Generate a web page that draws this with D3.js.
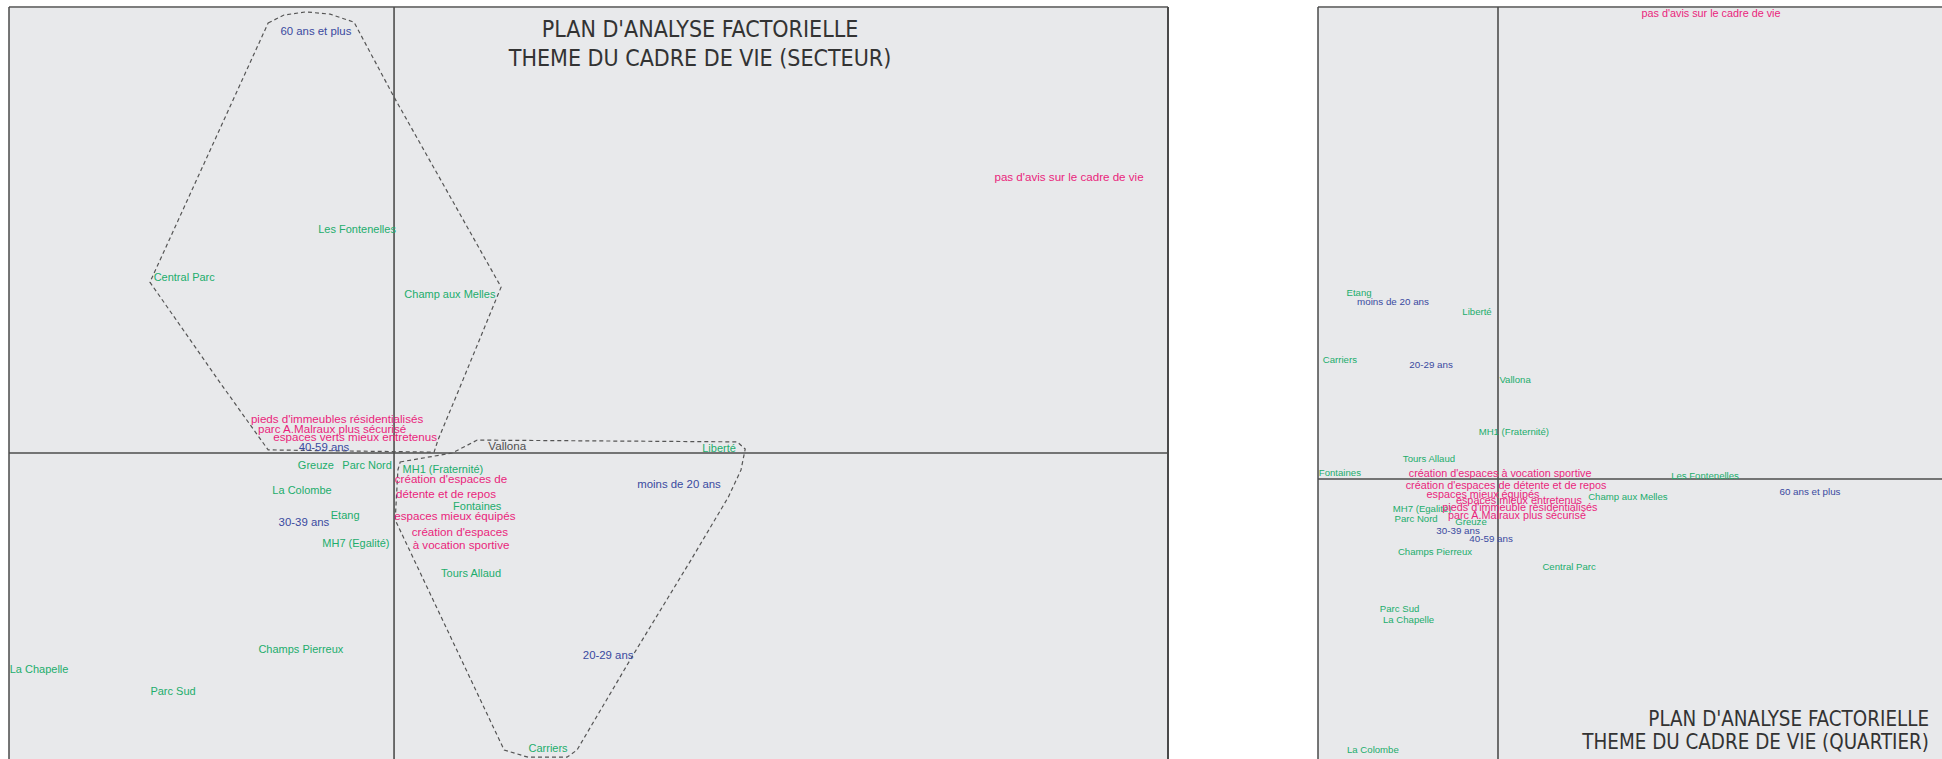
<!DOCTYPE html>
<html><head><meta charset="utf-8">
<script src="https://cdn.jsdelivr.net/npm/d3@7"></script>
<style>
html,body{margin:0;padding:0;background:#fff;}
svg{display:block;}
</style></head>
<body>
<svg id="c" width="1942" height="759"></svg>
<script>
// ---------- DATA: left panel (SECTEUR) ----------
const secteurLabels = ["60 ans et plus","Les Fontenelles","Central Parc","Champ aux Melles",
 "pieds d'immeubles résidentialisés","parc A.Malraux plus sécurisé","espaces verts mieux entretenus",
 "40-59 ans","Vallona","Liberté","Greuze","Parc Nord","MH1 (Fraternité)","création d'espaces de",
 "détente et de repos","La Colombe","Fontaines","Etang","30-39 ans","espaces mieux équipés",
 "création d'espaces","à vocation sportive","MH7 (Egalité)","Tours Allaud","moins de 20 ans",
 "Champs Pierreux","La Chapelle","Parc Sud","20-29 ans","Carriers","pas d'avis sur le cadre de vie"];
const secteurX = [-0.203,-0.096,-0.545,0.145,-0.148,-0.161,-0.101,-0.182,0.294,0.844,-0.203,-0.070,0.127,0.148,
 0.135,-0.239,0.216,-0.127,-0.234,0.158,0.171,0.174,-0.099,0.200,0.740,-0.242,-0.922,-0.574,0.556,0.400,1.753];
const secteurY = [0.946,0.502,0.395,0.357,0.078,0.056,0.036,0.013,0.016,0.011,-0.027,-0.027,-0.036,-0.058,
 -0.090,-0.083,-0.119,-0.139,-0.155,-0.141,-0.175,-0.204,-0.202,-0.269,-0.070,-0.439,-0.484,-0.534,-0.453,-0.661,0.619];
const secteurType = ["age","site","site","site","avis","avis","avis","age","center","site","site","site","site","avis",
 "avis","site","site","site","age","avis","avis","avis","site","site","age","site","site","site","age","site","avis"];

// convex envelopes (dashed) in factor units
const hullUpperX = [-0.327,-0.286,-0.229,-0.166,-0.104,0,0.278,0.179,0.114,0.104,-0.327,-0.457,-0.634];
const hullUpperY = [0.964,0.982,0.989,0.984,0.966,0.798,0.372,0.164,0.029,0.002,0.007,0.164,0.383];
const hullLowerX = [0.016,0.151,0.216,0.891,0.912,0.901,0.868,0.771,0.613,0.475,0.449,0.348,0.286,0.003,0.010];
const hullLowerY = [-0.020,0,0.029,0.025,0.009,-0.038,-0.099,-0.240,-0.464,-0.666,-0.682,-0.682,-0.666,-0.150,-0.038];

// ---------- DATA: right panel (QUARTIER) ----------
const quartierLabels = ["pas d'avis sur le cadre de vie","Etang","moins de 20 ans","Liberté","Carriers","20-29 ans",
 "Vallona","MH1 (Fraternité)","Tours Allaud","Fontaines","création d'espaces à vocation sportive","Les Fontenelles",
 "création d'espaces de détente et de repos","espaces mieux équipés","Champ aux Melles","60 ans et plus",
 "espaces mieux entretenus","MH7 (Egalité)","pieds d'immeuble résidentialisés","Parc Nord",
 "parc A.Malraux plus sécurisé","Greuze","30-39 ans","40-59 ans","Champs Pierreux","Central Parc",
 "Parc Sud","La Chapelle","La Colombe"];
const quartierX = [0.710,-0.463,-0.350,-0.070,-0.527,-0.223,0.057,0.053,-0.230,-0.527,0.007,0.690,0.027,-0.050,0.433,1.040,
 0.070,-0.253,0.073,-0.273,0.063,-0.090,-0.133,-0.023,-0.210,0.237,-0.328,-0.298,-0.417];
const quartierY = [1.553,0.623,0.590,0.557,0.397,0.380,0.333,0.160,0.070,0.023,0.020,0.013,-0.020,-0.050,-0.057,-0.043,
 -0.070,-0.097,-0.093,-0.130,-0.120,-0.143,-0.173,-0.197,-0.243,-0.293,-0.430,-0.467,-0.903];
const quartierType = ["avis","site","age","site","site","age","site","site","site","site","avis","site","avis","avis","site","age",
 "avis","site","avis","site","avis","site","age","age","site","site","site","site","site"];

const titleSecteur = ["PLAN D'ANALYSE FACTORIELLE","THEME DU CADRE DE VIE (SECTEUR)"];
const titleQuartier = ["PLAN D'ANALYSE FACTORIELLE","THEME DU CADRE DE VIE (QUARTIER)"];

// ---------- STYLE ----------
const colors = {site:"#22ad6b", avis:"#ea1f7c", age:"#3a4aa0", center:"#505050"};
const panelFill = "#e8e9eb";
const svg = d3.select("#c");
const fontLab = "'Liberation Sans', Arial, sans-serif";
const fontTitle = "'DejaVu Sans Condensed', 'DejaVu Sans', sans-serif";

function panel(x0, y0, x1, y1, xs, ys, labels, xv, yv, types, sizes, rightBorder){
  const g = svg.append("g");
  g.append("rect").attr("x",x0).attr("y",y0).attr("width",x1-x0).attr("height",y1-y0)
    .attr("fill",panelFill).attr("stroke","none");
  g.append("line").attr("x1",x0).attr("x2",x1).attr("y1",y0).attr("y2",y0).attr("stroke","#7d7d7d").attr("stroke-width",2);
  g.append("line").attr("x1",x0).attr("x2",x0).attr("y1",y0).attr("y2",y1).attr("stroke","#4a4a4a").attr("stroke-width",1.5);
  if(rightBorder) g.append("line").attr("x1",x1).attr("x2",x1).attr("y1",y0).attr("y2",y1).attr("stroke","#4a4a4a").attr("stroke-width",2);
  g.append("line").attr("x1",xs(0)).attr("x2",xs(0)).attr("y1",y0).attr("y2",y1).attr("stroke","#4d4d4d").attr("stroke-width",1.6);
  g.append("line").attr("x1",x0).attr("x2",x1).attr("y1",ys(0)).attr("y2",ys(0)).attr("stroke","#4d4d4d").attr("stroke-width",1.6);
  g.selectAll("text.lab").data(labels.map((l,i)=>({l,x:xv[i],y:yv[i],t:types[i]})))
    .join("text").attr("class","lab")
    .attr("x",d=>xs(d.x)).attr("y",d=>ys(d.y))
    .attr("text-anchor","middle").attr("dominant-baseline","central")
    .attr("font-family",fontLab).attr("font-size",d=>sizes[d.t])
    .attr("fill",d=>colors[d.t]).text(d=>d.l);
  return g;
}

// left panel scales
const xL = d3.scaleLinear().domain([-1,2.01]).range([9,1168]);
const yL = d3.scaleLinear().domain([-0.686,1]).range([759,7]);
const lineL = d3.line().x(d=>xL(d[0])).y(d=>yL(d[1])).curve(d3.curveLinearClosed);
const gl = panel(9,7,1168,800,xL,yL,secteurLabels,secteurX,secteurY,secteurType,
  {site:11,avis:11.6,age:11.4,center:11.6},true);
gl.insert("path","text").attr("d",lineL(hullUpperX.map((v,i)=>[v,hullUpperY[i]])))
  .attr("fill","none").attr("stroke","#555").attr("stroke-width",1.2).attr("stroke-dasharray","4,3");
gl.insert("path","text").attr("d",lineL(hullLowerX.map((v,i)=>[v,hullLowerY[i]])))
  .attr("fill","none").attr("stroke","#555").attr("stroke-width",1.2).attr("stroke-dasharray","4,3");
gl.append("g").selectAll("text").data(titleSecteur).join("text")
  .attr("x",700).attr("y",(d,i)=>37+i*29).attr("text-anchor","middle")
  .attr("font-family",fontTitle).attr("font-size",23).attr("fill","#333").text(d=>d);

// right panel scales
const xR = d3.scaleLinear().domain([-0.6,1.48]).range([1318,1942]);
const yR = d3.scaleLinear().domain([-0.933,1.573]).range([759,7]);
const gr = panel(1318,7,2100,800,xR,yR,quartierLabels,quartierX,quartierY,quartierType,
  {site:9.6,avis:10.8,age:9.8,center:9.6},false);
gr.append("g").selectAll("text").data(titleQuartier).join("text")
  .attr("x",1929).attr("y",(d,i)=>726+i*23).attr("text-anchor","end")
  .attr("font-family",fontTitle).attr("font-size",20.4).attr("fill","#333").text(d=>d);
</script>
</body></html>
